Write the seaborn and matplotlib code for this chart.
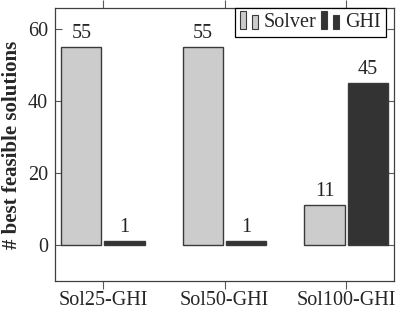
import pandas as pd
import seaborn as sns
import matplotlib.pyplot as plt
from matplotlib.patches import Rectangle
from matplotlib.legend_handler import HandlerBase

# Data
instances = ["Sol25-GHI", "Sol50-GHI", "Sol100-GHI"]
solver_counts = [55, 55, 11]
ghi_counts = [1, 1, 45]
methods = ["Solver", "GHI"]
colors = ["#cccccc", "#333333"]


class BarPairHandler(HandlerBase):
    # pgfplots-style ybar legend glyph: two small bars
    def create_artists(self, legend, orig_handle, xdescent, ydescent,
                       width, height, fontsize, trans):
        fc = orig_handle.get_facecolor()
        ec = orig_handle.get_edgecolor()
        w = width * 0.3
        r1 = Rectangle((-xdescent, -ydescent - 0.15 * height), w, height * 1.3,
                       facecolor=fc, edgecolor=ec, linewidth=0.8, transform=trans)
        r2 = Rectangle((-xdescent + width * 0.62, -ydescent - 0.15 * height), w, height * 1.0,
                       facecolor=fc, edgecolor=ec, linewidth=0.8, transform=trans)
        return [r1, r2]


def main():
    df = pd.DataFrame({
        "instance": instances * 2,
        "count": solver_counts + ghi_counts,
        "method": [methods[0]] * len(instances) + [methods[1]] * len(instances),
    })

    sns.set_style("ticks")
    plt.rcParams["font.family"] = ["Liberation Serif", "DejaVu Serif"]

    fs = 14.5
    fig = plt.figure(figsize=(4.01, 3.12), dpi=100)
    ax = fig.add_axes([0.137, 0.099, 0.846, 0.876])

    sns.barplot(data=df, x="instance", y="count", hue="method",
                palette=colors, width=0.71, gap=0.07,
                edgecolor="#3a3a3a", linewidth=1.0, ax=ax)

    # Value labels above bars
    for container in ax.containers:
        ax.bar_label(container, padding=3, fontsize=fs)

    ax.set_xlim(-0.395, 2.395)
    ax.set_ylim(-10, 65.8)
    ax.set_yticks([0, 20, 40, 60])
    ax.set_xlabel("")
    ax.set_ylabel("# best feasible solutions", fontsize=15, fontweight="bold", labelpad=4)

    for spine in ax.spines.values():
        spine.set_visible(True)
        spine.set_color("0.25")
        spine.set_linewidth(0.9)

    ax.tick_params(axis="y", direction="in", left=True, right=True,
                   length=5, color="0.35", labelsize=fs, pad=5)
    ax.tick_params(axis="x", direction="out", bottom=True, top=True,
                   length=6, color="0.35", labelsize=fs, pad=1)

    # Legend with ybar-style glyphs
    handles, labels = ax.get_legend_handles_labels()
    ax.legend(handles, labels, ncol=2, loc="upper right",
              bbox_to_anchor=(0.975, 1.0), borderaxespad=0,
              handler_map={h: BarPairHandler() for h in handles},
              handlelength=1.0, handletextpad=0.2, columnspacing=0.2,
              fontsize=fs, frameon=True, fancybox=False, framealpha=1,
              edgecolor="black", borderpad=0.25)
    ax.get_legend().get_frame().set_linewidth(0.9)

    fig.savefig("out.png", dpi=100)
    plt.close(fig)


if __name__ == "__main__":
    main()
